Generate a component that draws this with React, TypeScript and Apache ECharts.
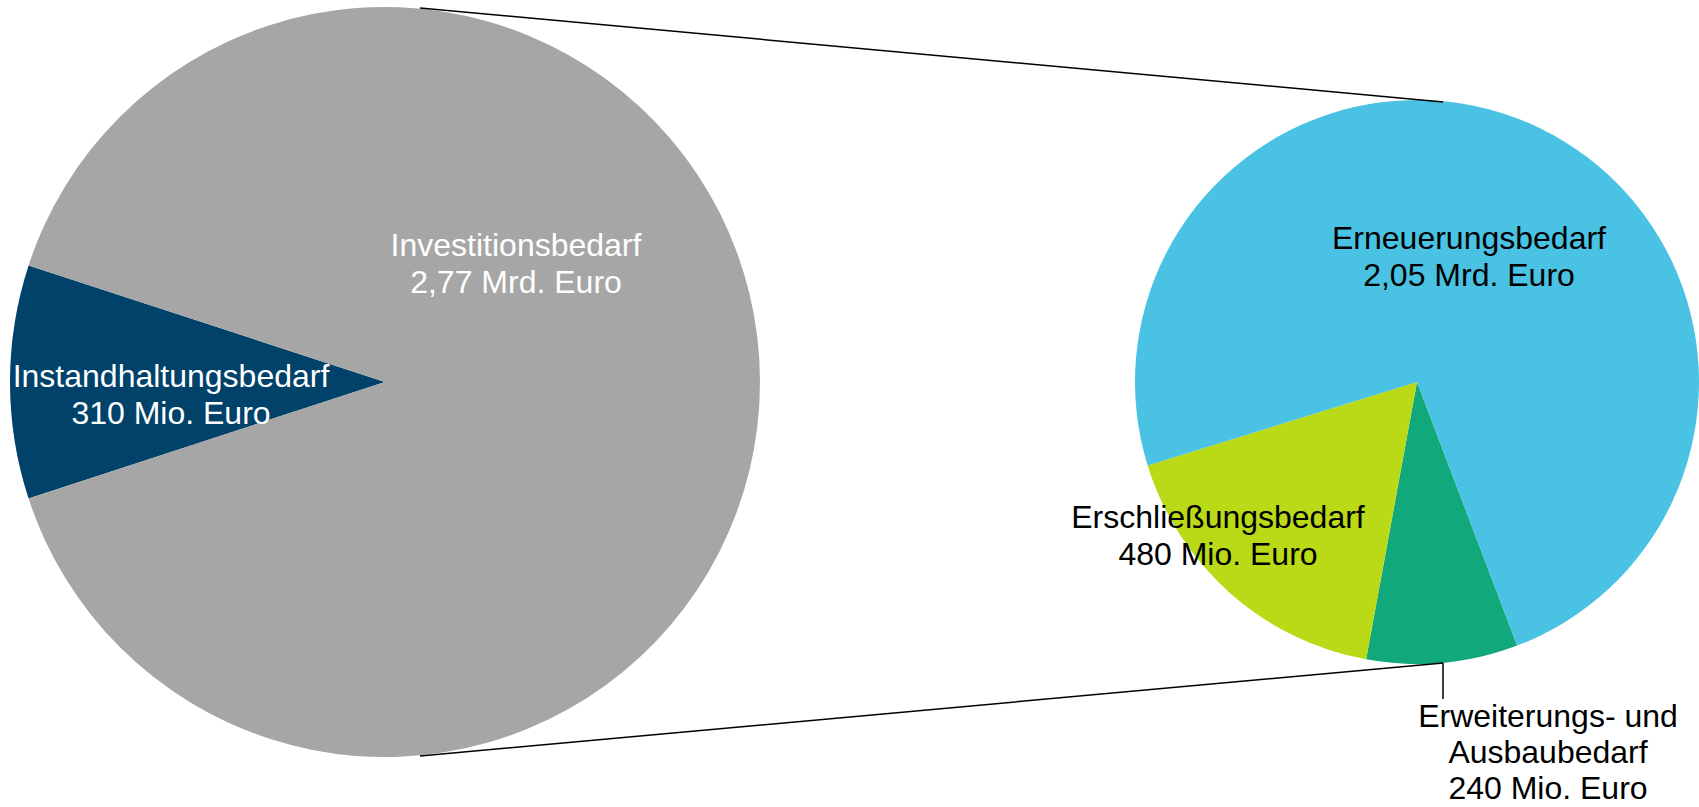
import React, { useEffect, useRef } from "react";
import * as echarts from "echarts";

// Left pie: total need split
const leftCategories = ["Instandhaltungsbedarf", "Investitionsbedarf"];
const leftValues = [310, 2770]; // Mio. Euro
const leftValueLabels = ["310 Mio. Euro", "2,77 Mrd. Euro"];

// Right pie: breakdown of Investitionsbedarf
const rightCategories = ["Erweiterungs- und\nAusbaubedarf", "Erschließungsbedarf", "Erneuerungsbedarf"];
const rightValues = [240, 480, 2050]; // Mio. Euro
const rightValueLabels = ["240 Mio. Euro", "480 Mio. Euro", "2,05 Mrd. Euro"];

const leftColors = ["#00426A", "#A6A6A6"];
const rightColors = ["#11A87B", "#BAD916", "#49C2E3"];
const leftLabelColors = ["#FFFFFF", "#FFFFFF"];
const rightLabelColors = ["#000000", "#000000", "#000000"];

// label anchor positions and line heights (styling)
const leftLabelPos = [[171, 394], [516, 263]];
const rightLabelPos = [[1548, 752], [1218, 535], [1469, 256]];
const rightLineHeights = [36, 37, 37];

const FONT = "'Liberation Sans', Arial, Helvetica, sans-serif";

export default function App() {
  const ref = useRef<HTMLDivElement>(null);

  useEffect(() => {
    if (!ref.current) return;
    const chart = echarts.init(ref.current, null, { renderer: "svg" });

    const leftTotal = leftValues.reduce((a, b) => a + b, 0);
    const leftStart = 180 + (leftValues[0] / leftTotal) * 360 / 2;

    const mkData = (
      cats: string[],
      vals: number[],
      lbls: string[],
      cols: string[],
      lcols: string[],
      lhs?: number[]
    ) =>
      cats.map((c, i) => ({
        name: c,
        value: vals[i],
        itemStyle: { color: cols[i] },
        label: {
          color: lcols[i],
          formatter: c + "\n" + lbls[i],
          lineHeight: lhs ? lhs[i] : 37,
        },
      }));

    const labelStyle = {
      show: true,
      position: "inside",
      fontFamily: FONT,
      fontSize: 32,
      lineHeight: 37,
      align: "center",
      verticalAlign: "middle",
    };

    chart.setOption({
      animation: false,
      backgroundColor: "#FFFFFF",
      series: [
        {
          type: "pie",
          center: [385, 382],
          radius: 375,
          startAngle: leftStart,
          clockwise: true,
          silent: true,
          itemStyle: { borderWidth: 0 },
          label: labelStyle,
          labelLine: { show: false },
          labelLayout: (p: any) => ({
            x: leftLabelPos[p.dataIndex][0],
            y: leftLabelPos[p.dataIndex][1],
            align: "center",
            verticalAlign: "middle",
          }),
          data: mkData(leftCategories, leftValues, leftValueLabels, leftColors, leftLabelColors),
        },
        {
          type: "pie",
          center: [1417, 382],
          radius: 282,
          startAngle: -69.2,
          clockwise: true,
          silent: true,
          itemStyle: { borderWidth: 0 },
          label: labelStyle,
          labelLine: { show: false },
          labelLayout: (p: any) => ({
            x: rightLabelPos[p.dataIndex][0],
            y: rightLabelPos[p.dataIndex][1],
            align: "center",
            verticalAlign: "middle",
          }),
          data: mkData(
            rightCategories,
            rightValues,
            rightValueLabels,
            rightColors,
            rightLabelColors,
            rightLineHeights
          ),
        },
      ],
      graphic: [
        {
          type: "line",
          shape: { x1: 420, y1: 8, x2: 1443, y2: 102 },
          style: { stroke: "#000000", lineWidth: 1.5 },
          z: 10,
        },
        {
          type: "line",
          shape: { x1: 420, y1: 756, x2: 1443, y2: 663 },
          style: { stroke: "#000000", lineWidth: 1.5 },
          z: 10,
        },
        {
          type: "line",
          shape: { x1: 1443, y1: 663, x2: 1443, y2: 699 },
          style: { stroke: "#000000", lineWidth: 1.5 },
          z: 10,
        },
      ],
    });

    return () => chart.dispose();
  }, []);

  return (
    <div
      ref={ref}
      style={{ position: "fixed", left: 0, top: 0, width: 1699, height: 807, background: "#FFFFFF" }}
    />
  );
}
